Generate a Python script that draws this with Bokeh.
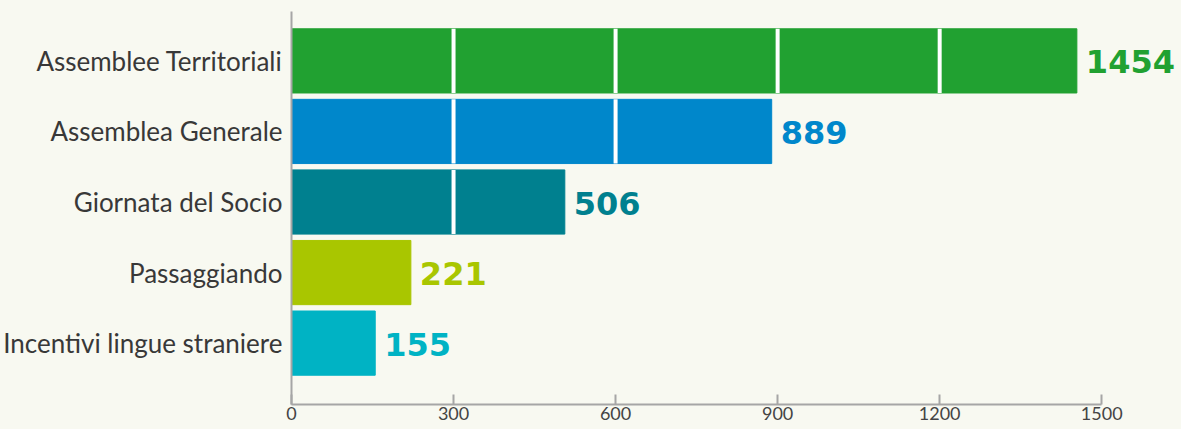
from bokeh.plotting import figure
from bokeh.models import ColumnDataSource, FixedTicker, Range1d
from bokeh.core.properties import value
from bokeh.embed import file_html
from bokeh.resources import INLINE

categories = ["Assemblee Territoriali", "Assemblea Generale", "Giornata del Socio",
              "Passaggiando", "Incentivi lingue straniere"]
values = [1454, 889, 506, 221, 155]
colors = ["#21a131", "#0087cb", "#00808f", "#a9c600", "#00b3c4"]
x_ticks = [0, 300, 600, 900, 1200, 1500]

BG = "#f8f9f1"
n = len(categories)
ypos = [n - 1 - i for i in range(n)]

src = ColumnDataSource(dict(y=ypos, v=values, c=colors, lab=[str(v) for v in values]))

p = figure(width=1179, height=427, output_backend="svg", toolbar_location=None,
           x_range=Range1d(0, 1644), y_range=Range1d(-0.87, 4.70),
           min_border_left=291, min_border_right=0, min_border_top=11, min_border_bottom=23)
p.background_fill_color = BG
p.border_fill_color = BG
p.outline_line_color = None
p.xgrid.visible = False
p.ygrid.visible = False

p.hbar(y="y", right="v", left=0, height=0.91, color="c", source=src)

# white separators inside bars at the grid positions
sx, sy0, sy1 = [], [], []
for y, v in zip(ypos, values):
    for t in x_ticks[1:]:
        if t < v:
            sx.append(t); sy0.append(y - 0.455); sy1.append(y + 0.455)
p.segment(x0=sx, x1=sx, y0=sy0, y1=sy1, line_color="white", line_width=4)

p.text(x="v", y="y", text="lab", text_color="c", x_offset=9, y_offset=1,
       text_baseline="middle", text_font=value("DejaVu Sans"), text_font_style="bold",
       text_font_size="32px", source=src)

xa = p.xaxis[0]
xa.ticker = FixedTicker(ticks=x_ticks)
xa.bounds = (0, 1500)
xa.axis_line_color = "#a6a6a6"
xa.axis_line_width = 2
xa.major_tick_line_color = "#a6a6a6"
xa.major_tick_line_width = 2
xa.major_tick_in = 10
xa.major_tick_out = 0
xa.minor_tick_line_color = None
xa.major_label_standoff = 2
xa.major_label_text_font = "Lato"
xa.major_label_text_font_size = "18px"
xa.major_label_text_color = "#444444"

ya = p.yaxis[0]
ya.ticker = FixedTicker(ticks=ypos)
ya.major_label_overrides = {y: c for y, c in zip(ypos, categories)}
ya.axis_line_color = "#a6a6a6"
ya.axis_line_width = 2
ya.major_tick_line_color = None
ya.minor_tick_line_color = None
ya.major_tick_out = 0
ya.major_tick_in = 0
ya.major_label_standoff = 9
ya.major_label_text_font = "Lato"
ya.major_label_text_font_size = "26px"
ya.major_label_text_color = "#383838"

html = file_html(p, INLINE)
html = html.replace("</head>", "<style>html, body { background: %s; }</style></head>" % BG, 1)
open("out.html", "w").write(html)
